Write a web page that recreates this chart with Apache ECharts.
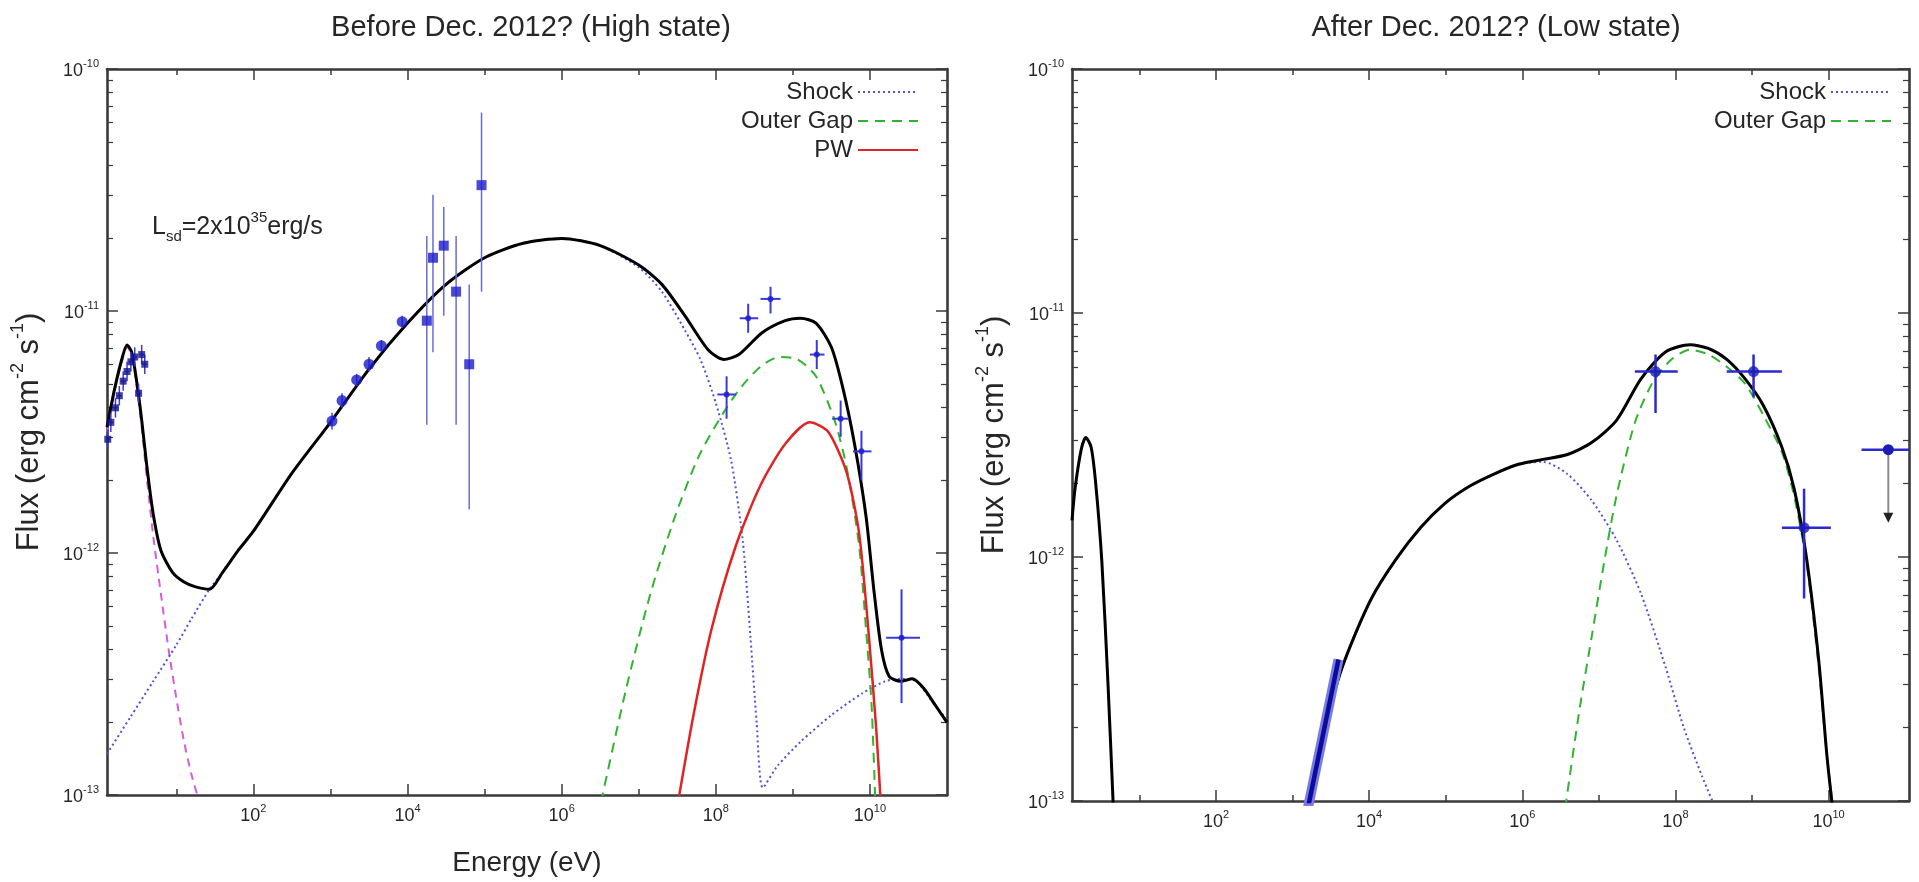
<!DOCTYPE html>
<html>
<head>
<meta charset="utf-8">
<title>SED high / low state</title>
<script src="https://cdn.jsdelivr.net/npm/echarts@6/dist/echarts.min.js"></script>
<style>
  html, body { margin: 0; padding: 0; background: #ffffff; }
  #chart { width: 1919px; height: 882px; }
</style>
</head>
<body>
<div id="chart"></div>
<script>
// All values are log10: energy E in eV, flux (nu F_nu) in erg cm^-2 s^-1.

// ---- High state (before Dec. 2012) : model curves [logE, logF] ----
const highTotal = [
  [0.10,-11.48],[0.20,-11.32],[0.30,-11.19],[0.36,-11.14],[0.42,-11.17],[0.48,-11.28],
  [0.55,-11.45],[0.62,-11.65],[0.70,-11.84],[0.80,-11.99],[0.95,-12.08],[1.10,-12.12],
  [1.25,-12.14],[1.43,-12.15],[1.60,-12.08],[1.80,-11.99],[2.00,-11.91],[2.50,-11.67],
  [3.00,-11.46],[3.50,-11.24],[4.00,-11.05],[4.50,-10.89],[5.00,-10.78],[5.50,-10.72],
  [6.00,-10.70],[6.50,-10.73],[7.00,-10.81],[7.30,-10.89],[7.60,-11.02],[7.90,-11.16],
  [8.10,-11.20],[8.30,-11.18],[8.60,-11.09],[8.90,-11.04],[9.10,-11.03],[9.30,-11.05],
  [9.50,-11.15],[9.65,-11.32],[9.80,-11.55],[9.95,-11.85],[10.05,-12.15],[10.15,-12.40],
  [10.25,-12.51],[10.40,-12.53],[10.55,-12.52],[10.70,-12.56],[10.85,-12.63],[11.00,-12.70]
];
const highDisk = [
  [0.10,-11.50],[0.20,-11.33],[0.30,-11.20],[0.36,-11.15],[0.42,-11.18],[0.48,-11.30],
  [0.55,-11.48],[0.62,-11.70],[0.70,-11.93],[0.80,-12.17],[0.90,-12.40],[1.00,-12.60],
  [1.10,-12.78],[1.20,-12.92],[1.30,-13.03]
];
const highShock = [
  [0.10,-12.83],[0.40,-12.68],[0.70,-12.53],[1.00,-12.38],[1.20,-12.27],[1.43,-12.15],
  [1.60,-12.08],[1.80,-11.99],[2.00,-11.91],[2.50,-11.67],[3.00,-11.46],[3.50,-11.24],
  [4.00,-11.05],[4.50,-10.89],[5.00,-10.78],[5.50,-10.72],[6.00,-10.70],[6.50,-10.73],
  [7.00,-10.82],[7.30,-10.92],[7.60,-11.08],[7.80,-11.20],[8.00,-11.38],[8.20,-11.62],
  [8.35,-11.95],[8.45,-12.35],[8.53,-12.70],[8.61,-12.97],[8.80,-12.88],[9.10,-12.78],
  [9.50,-12.67],[9.90,-12.58],[10.20,-12.53],[10.40,-12.52],[10.60,-12.53],[10.80,-12.61],
  [11.00,-12.69]
];
const highOuterGap = [
  [6.51,-13.03],[6.83,-12.57],[7.15,-12.17],[7.47,-11.85],[7.78,-11.60],[8.10,-11.42],
  [8.34,-11.31],[8.58,-11.23],[8.82,-11.19],[9.06,-11.20],[9.30,-11.27],[9.54,-11.45],
  [9.70,-11.65],[9.86,-11.97],[9.95,-12.32],[10.02,-12.62],[10.07,-13.03]
];
const highPW = [
  [7.51,-13.03],[7.71,-12.67],[7.94,-12.32],[8.26,-11.97],[8.58,-11.72],[8.90,-11.55],
  [9.22,-11.46],[9.46,-11.50],[9.70,-11.67],[9.86,-11.92],[9.98,-12.32],[10.08,-12.72],
  [10.14,-13.03]
];

// ---- High state : measurements [logE, logF, logE_lo, logE_hi, logF_lo, logF_hi] ----
const highOptical = [
  [0.11,-11.53,0.08,0.14,-11.57,-11.49],[0.15,-11.46,0.12,0.18,-11.50,-11.42],
  [0.21,-11.40,0.18,0.24,-11.44,-11.36],[0.26,-11.35,0.23,0.29,-11.39,-11.31],
  [0.31,-11.29,0.28,0.34,-11.33,-11.25],[0.36,-11.25,0.33,0.39,-11.29,-11.21],
  [0.41,-11.21,0.38,0.44,-11.25,-11.17],[0.46,-11.19,0.43,0.49,-11.23,-11.15],
  [0.51,-11.34,0.48,0.54,-11.38,-11.30],[0.55,-11.18,0.52,0.58,-11.22,-11.14],
  [0.59,-11.22,0.56,0.62,-11.26,-11.18]
];
const highXray = [
  [3.02,-11.455,3.02,3.02,-11.49,-11.42],[3.15,-11.37,3.15,3.15,-11.40,-11.34],
  [3.34,-11.285,3.34,3.34,-11.31,-11.26],[3.50,-11.22,3.50,3.50,-11.25,-11.19],
  [3.66,-11.144,3.66,3.66,-11.17,-11.12],[3.93,-11.044,3.93,3.93,-11.07,-11.02]
];
const highHardX = [
  [4.25,-11.04,4.25,4.25,-11.47,-10.69],[4.33,-10.78,4.33,4.33,-11.17,-10.52],
  [4.47,-10.73,4.47,4.47,-11.02,-10.57],[4.63,-10.92,4.63,4.63,-11.47,-10.69],
  [4.80,-11.22,4.80,4.80,-11.82,-10.89],[4.96,-10.48,4.96,4.96,-10.92,-10.18]
];
const highFermi = [
  [8.14,-11.345,8.02,8.26,-11.445,-11.27],[8.42,-11.03,8.31,8.55,-11.09,-10.97],
  [8.71,-10.95,8.58,8.84,-11.01,-10.90],[9.31,-11.18,9.22,9.41,-11.24,-11.12],
  [9.62,-11.445,9.51,9.73,-11.52,-11.37],[9.89,-11.58,9.78,10.02,-11.70,-11.495],
  [10.41,-12.35,10.21,10.65,-12.62,-12.15]
];

// ---- Low state (after Dec. 2012) : model curves ----
const lowTotalOptical = [
  [0.12,-11.85],[0.16,-11.72],[0.24,-11.56],[0.30,-11.51],[0.37,-11.55],[0.43,-11.70],
  [0.51,-12.02],[0.59,-12.52],[0.66,-13.03]
];
const lowTotal = [
  [3.20,-13.05],[3.39,-12.75],[3.55,-12.55],[3.71,-12.40],[4.03,-12.17],[4.35,-12.01],
  [4.67,-11.88],[4.99,-11.78],[5.31,-11.71],[5.63,-11.66],[5.95,-11.62],[6.27,-11.60],
  [6.59,-11.58],[6.91,-11.53],[7.23,-11.44],[7.55,-11.27],[7.87,-11.16],[8.19,-11.13],
  [8.43,-11.145],[8.67,-11.19],[8.91,-11.27],[9.15,-11.38],[9.39,-11.55],[9.55,-11.72],
  [9.71,-12.00],[9.87,-12.42],[9.98,-12.82],[10.06,-13.05]
];
const lowShock = [
  [3.20,-13.05],[3.39,-12.75],[3.55,-12.55],[3.71,-12.40],[4.03,-12.17],[4.35,-12.01],
  [4.67,-11.88],[4.99,-11.78],[5.31,-11.71],[5.63,-11.66],[5.95,-11.62],[6.27,-11.61],
  [6.59,-11.66],[6.91,-11.77],[7.23,-11.93],[7.55,-12.15],[7.87,-12.45],[8.11,-12.70],
  [8.35,-12.90],[8.55,-13.05]
];
const lowOuterGap = [
  [6.56,-13.03],[6.75,-12.62],[6.91,-12.32],[7.07,-12.02],[7.23,-11.75],[7.47,-11.45],
  [7.71,-11.28],[7.95,-11.19],[8.19,-11.15],[8.43,-11.17],[8.67,-11.22],[8.91,-11.29],
  [9.15,-11.42],[9.39,-11.57],[9.55,-11.75],[9.71,-12.02],[9.87,-12.45],[9.98,-12.82],
  [10.06,-13.03]
];
const lowXrayFit = [[3.20,-13.03],[3.60,-12.42]];

// ---- Low state : measurements ----
const lowFermi = [
  [7.74,-11.24,7.47,8.03,-11.41,-11.17],
  [9.02,-11.24,8.67,9.39,-11.345,-11.17],
  [9.68,-11.88,9.39,10.03,-12.17,-11.72]
];
// [logE, logF, logE_lo, logE_hi, arrow tip logF]
const lowUpperLimit = [[10.78,-11.56,10.43,11.20,-11.86]];

// ---- Axis ticks ----
const xMajorTicks = [2, 4, 6, 8, 10];
const xMinorTicks = [1, 3, 5, 7, 9];
const yMajorTicks = [-13, -12, -11, -10];
const yMinorTicks = [];
for (let n = -13; n < -10; n++) {
  for (let k = 2; k <= 9; k++) yMinorTicks.push(n + Math.log10(k));
}

const FONT = '"Liberation Sans", Arial, Helvetica, sans-serif';
const FRAME = '#3a3a3a';
const TEXT = '#262626';

const powRich = {
  b: { fontSize: 18, fontFamily: FONT, color: TEXT, lineHeight: 22, verticalAlign: 'bottom' },
  s: { fontSize: 11, fontFamily: FONT, color: TEXT, lineHeight: 22, verticalAlign: 'top' }
};
const powLabel = v => '{b|10}{s|' + Math.round(v) + '}';

const panels = [
  { left: 107, top: 69, width: 840, height: 732, xmin: 0.10, xmax: 11.0, xName: 'Energy (eV)' },
  { left: 1072, top: 69, width: 837, height: 732, xmin: 0.12, xmax: 11.05, xName: '' }
];

const grids = panels.map(p => ({ left: p.left, top: p.top, width: p.width, height: p.height, containLabel: false }));

const xAxes = [];
const yAxes = [];
panels.forEach((p, gi) => {
  const xb = { type: 'value', gridIndex: gi, min: p.xmin, max: p.xmax, splitLine: { show: false } };
  const frameLine = { show: true, onZero: false, lineStyle: { color: FRAME, width: 2.6 } };
  const majorTickX = { show: true, inside: true, length: 11, customValues: xMajorTicks, lineStyle: { color: FRAME, width: 1.5 } };
  const minorTickX = { show: true, inside: true, length: 6, customValues: xMinorTicks, lineStyle: { color: FRAME, width: 1.5 } };
  xAxes.push(Object.assign({}, xb, {
    position: 'bottom', axisLine: frameLine, axisTick: majorTickX,
    axisLabel: { show: true, customValues: xMajorTicks, formatter: powLabel, rich: powRich, margin: 8 },
    name: p.xName, nameLocation: 'middle', nameGap: 54,
    nameTextStyle: { fontSize: 28, fontFamily: FONT, color: TEXT }
  }));
  xAxes.push(Object.assign({}, xb, { position: 'bottom', axisLine: { show: false }, axisTick: minorTickX, axisLabel: { show: false } }));
  xAxes.push(Object.assign({}, xb, { position: 'top', axisLine: frameLine, axisTick: majorTickX, axisLabel: { show: false } }));
  xAxes.push(Object.assign({}, xb, { position: 'top', axisLine: { show: false }, axisTick: minorTickX, axisLabel: { show: false } }));

  const yb = { type: 'value', gridIndex: gi, min: -13, max: -10, splitLine: { show: false } };
  const majorTickY = { show: true, inside: true, length: 11, customValues: yMajorTicks, lineStyle: { color: FRAME, width: 1.5 } };
  const minorTickY = { show: true, inside: true, length: 6, customValues: yMinorTicks, lineStyle: { color: FRAME, width: 1.2 } };
  yAxes.push(Object.assign({}, yb, {
    position: 'left', axisLine: frameLine, axisTick: majorTickY,
    axisLabel: { show: true, customValues: yMajorTicks, formatter: powLabel, rich: powRich, margin: 8 },
    name: '{a|Flux (erg cm}{s|-2}{a| s}{s|-1}{a|)}', nameLocation: 'middle', nameGap: 62, nameRotate: 90,
    nameTextStyle: {
      rich: {
        a: { fontSize: 31, fontFamily: FONT, color: TEXT, lineHeight: 36, verticalAlign: 'bottom' },
        s: { fontSize: 18, fontFamily: FONT, color: TEXT, lineHeight: 36, verticalAlign: 'top' }
      }
    }
  }));
  yAxes.push(Object.assign({}, yb, { position: 'left', axisLine: { show: false }, axisTick: minorTickY, axisLabel: { show: false } }));
  yAxes.push(Object.assign({}, yb, { position: 'right', axisLine: frameLine, axisTick: majorTickY, axisLabel: { show: false } }));
  yAxes.push(Object.assign({}, yb, { position: 'right', axisLine: { show: false }, axisTick: minorTickY, axisLabel: { show: false } }));
});

function curve(name, data, panel, color, width, type, z) {
  return {
    type: 'line', name: name, data: data,
    xAxisIndex: panel * 4, yAxisIndex: panel * 4,
    symbol: 'none', showSymbol: false, smooth: 0.25,
    lineStyle: { color: color, width: width, type: type },
    itemStyle: { color: color },
    clip: true, silent: true, z: z
  };
}

function errorBars(name, data, panel, color, width) {
  return {
    type: 'custom', name: name, data: data,
    xAxisIndex: panel * 4, yAxisIndex: panel * 4,
    encode: { x: 0, y: 1 }, clip: true, silent: true, z: 8,
    renderItem: function (params, api) {
      const x = api.value(0), y = api.value(1);
      const a = api.coord([api.value(2), y]), b = api.coord([api.value(3), y]);
      const c = api.coord([x, api.value(4)]), d = api.coord([x, api.value(5)]);
      const st = { stroke: color, lineWidth: width };
      return {
        type: 'group', children: [
          { type: 'line', shape: { x1: a[0], y1: a[1], x2: b[0], y2: b[1] }, style: st },
          { type: 'line', shape: { x1: c[0], y1: c[1], x2: d[0], y2: d[1] }, style: st }
        ]
      };
    }
  };
}

function points(name, data, panel, color, size, symbol) {
  return {
    type: 'scatter', name: name, data: data.map(r => [r[0], r[1]]),
    xAxisIndex: panel * 4, yAxisIndex: panel * 4,
    symbol: symbol, symbolSize: size, itemStyle: { color: color },
    clip: true, silent: true, z: 9
  };
}

const upperLimitSeries = {
  type: 'custom', name: 'UL', data: lowUpperLimit,
  xAxisIndex: 4, yAxisIndex: 4, encode: { x: 0, y: 1 }, clip: true, silent: true, z: 9,
  renderItem: function (params, api) {
    const x = api.value(0), y = api.value(1);
    const p = api.coord([x, y]);
    const a = api.coord([api.value(2), y]), b = api.coord([api.value(3), y]);
    const tip = api.coord([x, api.value(4)]);
    return {
      type: 'group', children: [
        { type: 'line', shape: { x1: a[0], y1: a[1], x2: b[0], y2: b[1] }, style: { stroke: '#2a2ad0', lineWidth: 2.5 } },
        { type: 'line', shape: { x1: p[0], y1: p[1], x2: tip[0], y2: tip[1] - 8 }, style: { stroke: '#8a8a8a', lineWidth: 2 } },
        { type: 'polygon', shape: { points: [[tip[0] - 5, tip[1] - 10], [tip[0] + 5, tip[1] - 10], [tip[0], tip[1]]] }, style: { fill: '#222222' } },
        { type: 'circle', shape: { cx: p[0], cy: p[1], r: 5.5 }, style: { fill: '#1c1cb8' } }
      ]
    };
  }
};

const BLUE = '#1c1cc8';
const series = [
  // high state
  curve('Disk', highDisk, 0, '#d35fd3', 2, [8, 6], 3),
  curve('Shock', highShock, 0, '#5252d2', 2, [2, 3], 4),
  curve('Outer Gap', highOuterGap, 0, '#2fb52f', 2, [10, 7], 4),
  curve('PW', highPW, 0, '#e02424', 2.5, 'solid', 4),
  curve('Total', highTotal, 0, '#000000', 3, 'solid', 5),
  errorBars('OptErr', highOptical, 0, '#3a3ad8', 1.5),
  points('Optical', highOptical, 0, '#14148c', 7, 'rect'),
  errorBars('XErr', highXray, 0, '#4646dc', 1.5),
  points('X-ray', highXray, 0, BLUE, 11, 'circle'),
  errorBars('HXErr', highHardX, 0, '#6a6ae0', 1.5),
  points('Hard X-ray', highHardX, 0, BLUE, 10, 'rect'),
  errorBars('GErr', highFermi, 0, '#3a3ad8', 2),
  points('Gamma', highFermi, 0, BLUE, 6, 'circle'),
  // low state
  curve('TotalOpt', lowTotalOptical, 1, '#000000', 3, 'solid', 5),
  curve('Shock', lowShock, 1, '#5252d2', 2, [2, 3], 4),
  curve('Outer Gap', lowOuterGap, 1, '#2fb52f', 2, [10, 7], 4),
  curve('Total', lowTotal, 1, '#000000', 3, 'solid', 5),
  Object.assign(curve('XFitBand', lowXrayFit, 1, '#7a7ae6', 10, 'solid', 6), { smooth: false }),
  Object.assign(curve('XFit', lowXrayFit, 1, '#0c0c9a', 4.5, 'solid', 7), { smooth: false }),
  errorBars('LGErr', lowFermi, 1, '#2a2ad0', 2.5),
  points('LGamma', lowFermi, 1, '#1c1cb8', 11, 'circle'),
  upperLimitSeries
];

function legendItem(name, right, top) {
  return {
    data: [name], right: right, top: top, orient: 'vertical', align: 'right',
    itemWidth: 60, itemHeight: 14, selectedMode: false,
    itemStyle: { opacity: 0 },
    textStyle: { fontSize: 24, fontFamily: FONT, color: TEXT }
  };
}

const option = {
  animation: false,
  backgroundColor: '#ffffff',
  title: [
    { text: 'Before Dec. 2012? (High state)', left: 526, top: 8, textAlign: 'center',
      textStyle: { fontSize: 29, fontWeight: 'normal', fontFamily: FONT, color: TEXT } },
    { text: 'After Dec. 2012? (Low state)', left: 1491, top: 8, textAlign: 'center',
      textStyle: { fontSize: 29, fontWeight: 'normal', fontFamily: FONT, color: TEXT } },
    { text: '{a|L}{d|sd}{a|=2x10}{u|35}{a|erg/s}', left: 147, top: 205,
      textStyle: { fontWeight: 'normal', rich: {
        a: { fontSize: 25, fontWeight: 'normal', fontFamily: FONT, color: TEXT, lineHeight: 34, verticalAlign: 'middle' },
        d: { fontSize: 15, fontWeight: 'normal', fontFamily: FONT, color: TEXT, lineHeight: 34, verticalAlign: 'bottom' },
        u: { fontSize: 15, fontWeight: 'normal', fontFamily: FONT, color: TEXT, lineHeight: 34, verticalAlign: 'top' }
      } } }
  ],
  legend: [
    legendItem('Shock', 995, 75),
    legendItem('Outer Gap', 995, 104),
    legendItem('PW', 995, 133),
    legendItem('Shock', 22, 75),
    legendItem('Outer Gap', 22, 104)
  ],
  grid: grids,
  xAxis: xAxes,
  yAxis: yAxes,
  series: series
};

const chart = echarts.init(document.getElementById('chart'), null, { renderer: 'canvas' });
chart.setOption(option);
</script>
</body>
</html>
